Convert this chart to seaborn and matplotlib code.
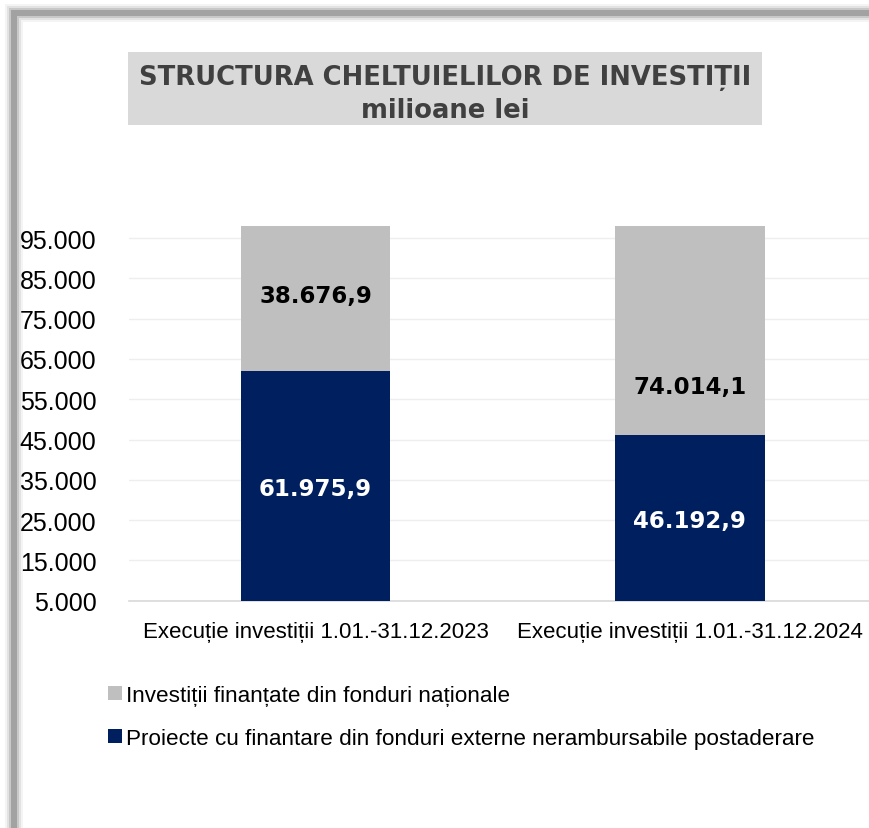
import matplotlib
matplotlib.use("Agg")
import matplotlib.pyplot as plt
import seaborn as sns
import pandas as pd
from matplotlib.patches import Rectangle, Patch
from matplotlib.ticker import FixedLocator, FuncFormatter

# ---------------- data ----------------
categories = ["Execuție investiții 1.01.-31.12.2023",
              "Execuție investiții 1.01.-31.12.2024"]
fonduri_externe = [61975.9, 46192.9]      # dark blue (bottom)
fonduri_nationale = [38676.9, 74014.1]    # gray (top)
series_names = ["Investiții finanțate din fonduri naționale",
                "Proiecte cu finantare din fonduri externe nerambursabile postaderare"]
ytick_values = [5000, 15000, 25000, 35000, 45000, 55000, 65000, 75000, 85000, 95000]
title_lines = ["STRUCTURA CHELTUIELILOR DE INVESTIȚII", "milioane lei"]

# ---------------- style ----------------
W, H, DPI = 869, 829, 100
GRAY = "#BFBFBF"
BLUE = "#001F5F"
YMIN, YMAX = 5000, 98000
# label placement override for the gray segment (None -> segment centre)
GRAY_LABEL_POS = [None, 58800]

sns.set_theme(style="white")
plt.rcParams["font.family"] = ["Liberation Sans", "DejaVu Sans"]
plt.rcParams["text.color"] = "black"
plt.rcParams["xtick.color"] = "black"
plt.rcParams["ytick.color"] = "black"


def fx(px):
    return px / W


def fy(py):
    return 1 - py / H


def ro(v, dec=1):
    s = f"{v:,.{dec}f}"
    return s.replace(",", "X").replace(".", ",").replace("X", ".")


fig = plt.figure(figsize=(W / DPI, H / DPI), dpi=DPI)
fig.patch.set_facecolor("white")

# frame with shadow (cut by right/bottom edges)
for lw_px, col in [(18, "#F4F4F4"), (14, "#E2E2E2"), (10, "#C8C8C8"), (6, "#A2A2A2")]:
    fig.add_artist(Rectangle((fx(13.5), -0.5), 2.0, fy(14) + 0.5,
                             transform=fig.transFigure, fill=False,
                             edgecolor=col, linewidth=lw_px * 72 / DPI, zorder=0))

# title box
fig.add_artist(Rectangle((fx(128.3), fy(126)), fx(761.7) - fx(128.3), fy(53.3) - fy(126),
                         transform=fig.transFigure, facecolor="#D9D9D9",
                         edgecolor="none", zorder=1))
fig.text(fx(445), fy(85), title_lines[0], ha="center", va="baseline",
         fontsize=18.6, fontweight="bold", color="#404040",
         family=["DejaVu Sans"], zorder=2)
fig.text(fx(445), fy(117.5), title_lines[1], ha="center", va="baseline",
         fontsize=18.6, fontweight="bold", color="#404040",
         family=["DejaVu Sans"], zorder=2)

# axes
ax = fig.add_axes([fx(128.5), fy(601.7), fx(877) - fx(128.5), fy(227) - fy(601.7)])
ax.set_facecolor("none")

df = pd.DataFrame({"cat": categories,
                   "ext": fonduri_externe,
                   "nat": fonduri_nationale})
df["total"] = df["ext"] + df["nat"]

sns.barplot(data=df, x="cat", y="total", color=GRAY, width=0.4, linewidth=0,
            saturation=1, errorbar=None, ax=ax, zorder=2)
sns.barplot(data=df, x="cat", y="ext", color=BLUE, width=0.4, linewidth=0,
            saturation=1, errorbar=None, ax=ax, zorder=3)

ax.set_xlim(-0.5, 1.5)
ax.set_ylim(YMIN, YMAX)
ax.set_xlabel("")
ax.set_ylabel("")
ax.yaxis.set_major_locator(FixedLocator(ytick_values))
ax.yaxis.set_major_formatter(FuncFormatter(lambda v, p: ro(v, 0)))
ax.yaxis.grid(True, color="#EEEEEE", linewidth=1.0)
ax.xaxis.grid(False)
ax.set_axisbelow(True)
for s in ["left", "top", "right"]:
    ax.spines[s].set_visible(False)
ax.spines["bottom"].set_color("#D9D9D9")
ax.spines["bottom"].set_linewidth(1.2)

ax.tick_params(axis="y", length=0, pad=23, labelsize=18, labelcolor="black")
ax.tick_params(axis="x", which="major", length=0, pad=14.5, labelsize=16,
               labelcolor="black")
ax.xaxis.set_minor_locator(FixedLocator([-0.5, 0.5, 1.5]))
ax.tick_params(axis="x", which="minor", length=5, width=1.0, color="#D9D9D9",
               direction="out")

# data labels
for i, (e, n) in enumerate(zip(fonduri_externe, fonduri_nationale)):
    y_blue = (max(YMIN, 0) + e) / 2
    ax.text(i, y_blue, ro(e), ha="center", va="center_baseline", fontsize=16.5,
            fontweight="bold", color="white", family=["DejaVu Sans"], zorder=5)
    y_gray = GRAY_LABEL_POS[i] if GRAY_LABEL_POS[i] is not None else e + n / 2
    ax.text(i, y_gray, ro(n), ha="center", va="center_baseline", fontsize=16.5,
            fontweight="bold", color="black", family=["DejaVu Sans"], zorder=5)

# legend
handles = [Patch(facecolor=GRAY, edgecolor="none"),
           Patch(facecolor=BLUE, edgecolor="none")]
leg = fig.legend(handles, series_names, loc="upper left",
                 bbox_to_anchor=(fx(108), fy(686)), bbox_transform=fig.transFigure,
                 frameon=False, fontsize=16.2, handlelength=0.6, handleheight=0.6,
                 handletextpad=0.22, labelspacing=0.97, borderpad=0, borderaxespad=0)
for t in leg.get_texts():
    t.set_color("black")

fig.savefig("out.png", dpi=DPI, facecolor="white")
